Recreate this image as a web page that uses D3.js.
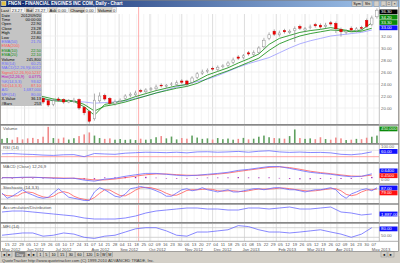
<!DOCTYPE html>
<html lang="en">
<head>
<meta charset="utf-8">
<title>FNGN - Daily - Chart</title>
<script src="https://cdn.jsdelivr.net/npm/d3@7"></script>
<style>
  body { margin: 0; background: #d4d0c8; }
  svg { display: block; font-family: "Liberation Sans", Arial, sans-serif; }
</style>
</head>
<body>
<script>
// ---- data ----
const candleDays = d3.timeDay.range(new Date(2012, 4, 10), new Date(2013, 4, 11), 5); // 74 bars
const lineDays = candleDays.filter((d, i) => i % 2 === 0); // 37 points

const open  = [22.4,22.8,23.3,23.1,22.9,22.3,22.1,21.9,21.6,21.2,20.6,21.5,21.4,21.0,21.1,21.4,20.1,19.4,18.2,21.2,
               22.1,21.6,20.7,21.1,21.6,22.1,22.2,22.9,22.7,23.1,23.2,23.8,23.6,23.9,23.9,24.5,24.5,24.3,25.1,25.8,
               26.1,26.6,26.4,26.9,27.1,27.6,28.5,28.4,29.2,28.9,29.3,30.2,31.6,32.8,32.2,32.9,32.6,32.9,33.6,33.0,
               33.4,33.9,33.8,33.6,34.2,34.1,33.1,32.6,33.3,32.9,33.4,34.6,33.9,35.2];
const high  = [23.0,23.4,23.6,23.4,23.1,22.7,22.4,22.2,21.9,21.5,21.6,21.8,21.6,21.5,21.7,21.6,20.4,19.6,22.4,22.6,
               22.4,21.8,21.4,21.6,22.3,22.6,22.9,23.2,23.3,23.5,23.9,24.1,24.0,24.3,24.6,24.8,24.7,25.3,26.0,26.4,
               26.6,26.9,27.1,27.3,27.8,28.4,28.8,29.0,29.5,29.6,30.3,31.7,32.6,33.1,32.9,33.2,33.1,33.6,33.9,33.5,
               33.9,34.2,34.1,34.2,34.5,34.4,33.4,33.1,33.6,33.5,33.7,34.9,35.4,36.6];
const low   = [22.1,22.5,22.9,22.5,22.2,21.9,21.5,21.2,20.7,20.2,20.3,21.0,20.7,20.8,20.8,19.7,18.8,17.4,17.9,20.9,
               21.2,20.5,20.4,20.8,21.3,21.8,21.9,22.5,22.4,22.8,22.9,23.4,23.3,23.6,23.6,24.0,23.5,24.0,24.8,25.5,
               25.8,26.2,26.1,26.6,26.8,27.3,28.0,28.1,28.7,28.6,29.0,29.9,31.3,32.0,31.9,32.4,32.3,31.0,33.0,32.7,
               33.1,33.4,33.2,33.3,33.7,32.5,31.9,32.3,32.7,32.6,33.0,33.3,33.6,34.9];
const close = [22.7,23.0,23.2,22.8,22.5,22.2,21.8,21.5,21.0,20.5,21.2,21.3,21.0,21.2,21.3,20.0,19.2,17.8,21.3,22.0,
               21.5,20.8,21.0,21.3,22.0,22.3,22.5,22.8,23.0,23.2,23.5,23.7,23.8,24.0,24.2,24.3,24.0,25.0,25.7,26.0,
               26.3,26.5,26.8,27.0,27.5,28.0,28.3,28.7,29.0,29.2,30.0,31.3,32.2,32.3,32.5,32.7,32.8,33.2,33.3,33.2,
               33.5,33.7,33.5,33.8,34.0,33.2,32.7,32.8,33.0,33.2,33.3,33.6,35.0,36.3];

const ema10 = [22.6,22.8,22.7,22.2,21.6,21.2,21.1,21.1,20.2,18.8,20.6,20.9,21.3,21.9,22.4,22.9,23.3,23.7,23.9,24.6,
               25.5,26.1,26.7,27.5,28.2,29.0,30.6,31.6,32.1,32.6,32.9,33.1,33.4,33.1,32.8,33.0,34.2];
const ema20 = [22.4,22.6,22.6,22.3,21.9,21.5,21.3,21.2,20.6,19.5,20.3,20.6,21.0,21.5,22.0,22.5,22.9,23.3,23.6,24.1,
               24.9,25.6,26.2,26.9,27.6,28.3,29.6,30.7,31.4,32.0,32.4,32.7,33.0,32.9,32.7,32.8,33.3];
const ema50 = [21.7,21.6,21.6,21.5,21.4,21.3,21.2,21.1,21.0,20.8,20.9,21.0,21.2,21.6,22.0,22.5,23.0,23.5,24.0,24.4,
               24.8,25.4,26.1,26.8,27.4,27.9,28.4,29.2,30.0,30.7,31.2,31.6,32.0,32.2,32.4,32.6,33.0];

const volume = [250,300,200,350,220,280,310,240,380,980,300,260,330,210,290,420,520,640,450,300,
                250,280,200,240,190,220,180,260,200,230,350,420,280,390,220,300,260,450,330,250,
                280,210,300,230,270,200,250,310,220,260,380,450,350,300,280,260,420,820,300,250,
                280,230,350,240,200,330,280,180,200,250,230,320,380,450]; // thousands

const rsi = [48,50,46,44,40,38,42,43,30,50,47,45,52,55,58,57,55,58,54,60,
             61,58,60,63,58,64,67,60,57,59,56,57,54,45,42,48,60];
const macd = [0.07,0.07,0.14,0.14,0.07,0.0,-0.05,0.0,-0.28,-0.43,-0.14,0.0,0.28,0.5,0.7,0.7,0.57,0.43,0.36,0.43,
              0.57,0.7,0.86,1.14,1.29,1.5,1.7,1.7,1.43,1.14,0.86,0.7,0.57,0.36,0.21,0.28,0.64];
const macdSignal = [0.1,0.08,0.1,0.12,0.1,0.06,0.02,0.0,-0.1,-0.25,-0.25,-0.12,0.08,0.3,0.5,0.62,0.62,0.52,0.44,0.42,
                    0.48,0.6,0.75,0.98,1.18,1.38,1.58,1.66,1.55,1.3,1.02,0.82,0.66,0.48,0.32,0.28,0.45];
const macdHist = [-0.03,-0.01,0.04,0.02,-0.03,-0.06,-0.07,0.0,-0.18,-0.18,0.11,0.12,0.2,0.2,0.2,0.08,-0.05,-0.09,-0.08,0.01,
                  0.09,0.1,0.11,0.16,0.11,0.12,0.12,0.04,-0.12,-0.16,-0.16,-0.12,-0.09,-0.12,-0.11,0.0,0.19];

const stochK = [56,25,37,56,75,56,44,31,25,31,56,81,56,31,25,19,12,12,62,87,
                75,56,37,31,50,81,87,94,87,81,69,56,37,37,56,75,81,69,75,87,
                75,69,62,69,75,62,62,69,75,81,81,75,81,87,87,81,75,75,69,62,
                69,75,75,81,87,75,44,25,50,62,75,81,69,87];
const stochD = [50,40,39,39,56,62,58,44,33,29,37,56,64,56,37,25,19,14,29,54,
                75,73,56,41,39,54,73,87,89,87,79,69,54,43,43,56,71,75,75,77,
                79,77,69,67,69,69,66,64,69,75,79,79,79,81,85,85,81,77,73,69,
                67,69,73,77,81,81,69,48,40,46,62,73,75,79];

const adLine = [2087,2187,2187,2087,1987,1887,1787,1687,1487,1387,1387,1387,1487,1687,1987,2187,2287,2387,2487,2487,
                2387,2387,2287,2287,2487,2487,2387,2487,2587,2387,2387,2487,2587,2087,1987,1787,1887]; // thousands
const mfi = [33,40,47,47,27,33,47,40,20,13,27,33,53,73,80,80,60,33,27,53,
             53,60,67,93,87,67,53,53,47,53,60,67,53,40,20,40,80];

const priceTicks = [20,22,24,26,28,30,32];
const cursorDay = new Date(2012, 8, 20);

const infoLabels = ["Date","Time","Open","Close","High","Low","EMA(50)","EMA(200)","EMA(10)","EMA(20)","Volume",
                    "RSI(14)","MACD(12,26,9)","Signal(12,26,9)","Hist(12,26,9)","%K(14,3,3)","%D(14,3,3)","A/D","MFI(14)","X-Value","#Bars"];
const infoValues = ["2012/09/20","00:00:00","22.90","23.28","23.40","22.80","21.70","","22.50","22.10","245,800",
                    "60.25","0.6012","0.5237","0.0775","93.62","87.10","1,687,000","80.00","36.13","253"];
const quoteItems = [["Last","23.27"],["Bid","23.27"],["Ask","0.00"],["Change","0.00"],["Volume","0"]];
const timeFrames = ["1","5","10","15","30","60","120","D","W","M"];

// ---- drawing ----
const W = 400, H = 263;
const BLUE = "#6a6aff", RED = "#ff5a5a", GREEN = "#0a8a0a";
const infoColor = ["#000","#000","#000","#000","#000","#000",BLUE,RED,GREEN,GREEN,"#000",
                   BLUE,BLUE,RED,"#c000c0",BLUE,RED,BLUE,BLUE,"#000","#000"];

const svg = d3.select("body").append("svg").attr("width", W).attr("height", H);
svg.append("rect").attr("width", W).attr("height", H).attr("fill", "#d4d0c8");
svg.append("rect").attr("x", 1).attr("y", 7).attr("width", 397).attr("height", 244).attr("fill", "#fff");

const x = d3.scaleTime().domain([new Date(2012, 4, 10), new Date(2013, 4, 12)]).range([2, 379]);

// vertical grid
const grid = svg.append("g");
const weeks = d3.timeTuesday.range(x.domain()[0], x.domain()[1]);
const months = d3.timeMonth.range(new Date(2012, 5, 1), x.domain()[1]);
grid.selectAll(".wk").data(weeks).enter().append("line")
  .attr("x1", d => x(d)).attr("x2", d => x(d)).attr("y1", 14).attr("y2", 241)
  .attr("stroke", "#f1f1f1").attr("stroke-width", 0.8);
grid.selectAll(".mo").data(months).enter().append("line")
  .attr("x1", d => x(d)).attr("x2", d => x(d)).attr("y1", 14).attr("y2", 241)
  .attr("stroke", "#d6d6d6").attr("stroke-width", 0.8);

// price panel
const yP = d3.scaleLinear().domain([20, 34]).range([108, 24]);
grid.selectAll(".pg").data(priceTicks).enter().append("line")
  .attr("x1", 1).attr("x2", 379).attr("y1", d => yP(d)).attr("y2", d => yP(d))
  .attr("stroke", "#eeeeee").attr("stroke-width", 0.8);

svg.append("line").attr("x1", x(cursorDay)).attr("x2", x(cursorDay)).attr("y1", 7).attr("y2", 241)
  .attr("stroke", "#ff9a9a").attr("stroke-width", 0.8);

const bars = candleDays.map((d, i) => ({ date: d, o: open[i], h: high[i], l: low[i], c: close[i], v: volume[i], k: stochK[i], dd: stochD[i] }));
const pts = lineDays.map((d, i) => ({ date: d, e10: ema10[i], e20: ema20[i], e50: ema50[i], rsi: rsi[i], m: macd[i], s: macdSignal[i], hst: macdHist[i], ad: adLine[i], mfi: mfi[i] }));

function drawLine(key, y, color, width) {
  svg.append("path").datum(pts)
    .attr("d", d3.line().x(d => x(d.date)).y(d => y(d[key])))
    .attr("fill", "none").attr("stroke", color).attr("stroke-width", width || 0.8);
}
function drawBarLine(key, y, color) {
  svg.append("path").datum(bars)
    .attr("d", d3.line().x(d => x(d.date)).y(d => y(d[key])))
    .attr("fill", "none").attr("stroke", color).attr("stroke-width", 0.8);
}

drawLine("e50", yP, "#9a9aff");
drawLine("e20", yP, GREEN);
drawLine("e10", yP, GREEN);

const candles = svg.selectAll(".candle").data(bars).enter().append("g");
candles.append("line")
  .attr("x1", d => x(d.date)).attr("x2", d => x(d.date))
  .attr("y1", d => yP(d.h)).attr("y2", d => yP(d.l))
  .attr("stroke", "#8c8c8c").attr("stroke-width", 0.7);
candles.append("rect")
  .attr("x", d => x(d.date) - 1.2).attr("width", 2.4)
  .attr("y", d => yP(Math.max(d.o, d.c)))
  .attr("height", d => Math.max(0.7, Math.abs(yP(d.o) - yP(d.c))))
  .attr("fill", d => d.c < d.o ? "#f00000" : "#fff")
  .attr("stroke", d => d.c < d.o ? "#d00000" : "#8c8c8c").attr("stroke-width", 0.5);

// volume
const yV = d3.scaleLinear().domain([0, 1000]).range([143, 126.5]);
svg.selectAll(".vol").data(bars).enter().append("rect")
  .attr("x", d => x(d.date) - 0.8).attr("width", 1.6)
  .attr("y", d => yV(d.v)).attr("height", d => yV(0) - yV(d.v))
  .attr("fill", d => d.c < d.o ? "#f08a8a" : "#5fa05f");

// RSI
const yR = d3.scaleLinear().domain([0, 100]).range([161.5, 145.5]);
svg.append("line").attr("x1", 1).attr("x2", 379).attr("y1", yR(70)).attr("y2", yR(70)).attr("stroke", "#dcdcdc").attr("stroke-width", 0.8);
svg.append("line").attr("x1", 1).attr("x2", 379).attr("y1", yR(30)).attr("y2", yR(30)).attr("stroke", "#ff9a9a").attr("stroke-width", 0.9);
drawLine("rsi", yR, BLUE);

// MACD
const yM = d3.scaleLinear().domain([-0.7, 2.0]).range([183, 164.5]);
svg.selectAll(".hist").data(pts).enter().append("rect")
  .attr("x", d => x(d.date) - 0.7).attr("width", 1.4)
  .attr("y", d => Math.min(yM(0), yM(d.hst))).attr("height", d => Math.max(0.5, Math.abs(yM(d.hst) - yM(0))))
  .attr("fill", "#a020b0");
drawLine("s", yM, RED);
drawLine("m", yM, BLUE);

// Stochastic
const yS = d3.scaleLinear().domain([0, 100]).range([202.5, 185.5]);
[20, 80].forEach(v => svg.append("line").attr("x1", 1).attr("x2", 379).attr("y1", yS(v)).attr("y2", yS(v)).attr("stroke", "#c8c8c8").attr("stroke-width", 0.8));
drawBarLine("dd", yS, RED);
drawBarLine("k", yS, BLUE);

// A/D
const yA = d3.scaleLinear().domain([1087, 2787]).range([222, 205]);
drawLine("ad", yA, BLUE);

// MFI
const yF = d3.scaleLinear().domain([0, 100]).range([240.5, 224.5]);
[20, 80].forEach(v => svg.append("line").attr("x1", 1).attr("x2", 379).attr("y1", yF(v)).attr("y2", yF(v)).attr("stroke", "#c8c8c8").attr("stroke-width", 0.8));
drawLine("mfi", yF, BLUE);

// panel separators
[124, 143, 162, 183, 203, 222].forEach(y => {
  svg.append("rect").attr("x", 0).attr("y", y).attr("width", 399).attr("height", 2).attr("fill", "#a8a8a8");
  svg.append("line").attr("x1", 0).attr("x2", 399).attr("y1", y + 0.5).attr("y2", y + 0.5).attr("stroke", "#707070").attr("stroke-width", 0.6);
});

// panel titles
const titles = [["Volume", 129.5], ["RSI (14)", 148.5], ["MACD (Close) 12,26,9", 167.5], ["Stochastic (14,3,3)", 188.5], ["Accumulation/Distribution", 208.5], ["MFI (14)", 227.5]];
titles.forEach(t => svg.append("text").attr("x", 3).attr("y", t[1]).attr("font-size", 4.3).attr("fill", "#555").text(t[0]));

// right axis column
svg.append("rect").attr("x", 379).attr("y", 7).attr("width", 19).attr("height", 234).attr("fill", "#fff");
svg.append("line").attr("x1", 379.3).attr("x2", 379.3).attr("y1", 7).attr("y2", 241).attr("stroke", "#9a9a9a").attr("stroke-width", 0.6);
[124, 143, 162, 183, 203, 222].forEach(y => svg.append("rect").attr("x", 379).attr("y", y).attr("width", 20).attr("height", 2).attr("fill", "#a8a8a8"));

const axisText = (y, t) => svg.append("text").attr("x", 381).attr("y", y + 1.5).attr("font-size", 4.3).attr("fill", "#666").text(t);
priceTicks.forEach(v => axisText(yP(v), d3.format(".2f")(v)));
axisText(yR(100) + 1, "100.00");
axisText(yM(0) + 1.5, "0.00");
axisText(yF(50) + 2.5, "50.00");

function valueBox(y, fill, t) {
  svg.append("rect").attr("x", 379.5).attr("y", y).attr("width", 18).attr("height", 4.8).attr("fill", fill);
  svg.append("text").attr("x", 381).attr("y", y + 3.9).attr("font-size", 4.3).attr("fill", "#fff").text(t);
}
const f2 = d3.format(".2f"), f4 = d3.format(".4f"), fk = v => d3.format(",")(v * 1000);
const lastB = bars[bars.length - 1], lastP = pts[pts.length - 1];
valueBox(9.5, "#000", f2(lastB.c));
valueBox(14.8, "#0a8a0a", f2(lastP.e10));
valueBox(20.1, "#0a8a0a", f2(lastP.e20));
valueBox(25.4, "#1010ff", f2(lastP.e50));
valueBox(126.5, "#0a8a0a", fk(lastB.v));
valueBox(149, "#1010ff", f2(lastP.rsi));
valueBox(168.5, "#1010ff", f4(lastP.m));
valueBox(173.3, "#ff1010", f4(lastP.s));
valueBox(185.6, "#1010ff", f2(lastB.k));
valueBox(190.5, "#ff1010", f2(lastB.dd));
valueBox(yA(lastP.ad) - 2.4, "#1010ff", fk(lastP.ad));
valueBox(226.5, "#1010ff", f2(lastP.mfi));

// x axis
svg.append("line").attr("x1", 1).attr("x2", 398).attr("y1", 241.3).attr("y2", 241.3).attr("stroke", "#777").attr("stroke-width", 0.6);
svg.selectAll(".dayl").data(weeks.filter(d => x(d) < 378)).enter().append("text")
  .attr("x", d => x(d)).attr("y", 246.3).attr("text-anchor", "middle")
  .attr("font-size", 4.2).attr("fill", "#555").text(d3.timeFormat("%d"));
const monthTicks = [x.domain()[0]].concat(months.map(m => d3.timeTuesday.ceil(m)));
svg.selectAll(".mol").data(monthTicks).enter().append("text")
  .attr("x", (d, i) => i === 0 ? 2 : x(d) - 2).attr("y", 250.6)
  .attr("font-size", 4.2).attr("fill", "#555").text(d3.timeFormat("%b %Y"));

// title bar
const grad = svg.append("defs").append("linearGradient").attr("id", "tb");
grad.append("stop").attr("offset", "0%").attr("stop-color", "#0a246a");
grad.append("stop").attr("offset", "100%").attr("stop-color", "#a6caf0");
svg.append("rect").attr("x", 0).attr("y", 0).attr("width", W).attr("height", 7).attr("fill", "url(#tb)");
svg.append("rect").attr("x", 1.5).attr("y", 1.2).attr("width", 4.5).attr("height", 4.5).attr("fill", "#e0c040").attr("stroke", "#fff").attr("stroke-width", 0.4);
svg.append("text").attr("x", 8).attr("y", 5.2).attr("font-size", 4.6).attr("font-weight", "bold").attr("fill", "#fff")
  .text("FNGN - FINANCIAL ENGINES INC COM, Daily - Chart");

function button(bx, by, bw, bh, t, dark) {
  svg.append("rect").attr("x", bx).attr("y", by).attr("width", bw).attr("height", bh)
    .attr("fill", dark ? "#808080" : "#d4d0c8").attr("stroke", "#808080").attr("stroke-width", 0.4);
  if (t) svg.append("text").attr("x", bx + bw / 2).attr("y", by + bh - 1.3).attr("text-anchor", "middle")
    .attr("font-size", 3.8).attr("fill", dark ? "#fff" : "#000").text(t);
}
button(352, 1, 10, 5.5, "Sym");
button(363, 1, 9, 5.5, "Sht");
button(374, 1, 5, 5.5, "");
button(381, 1, 5, 5.5, "_");
button(386.5, 1, 5, 5.5, "□");
button(392, 1, 5, 5.5, "×");

// quote row
let qx = 0;
quoteItems.forEach(q => {
  const lw = q[0].length * 2.2 + 2, vw = q[1].length * 2.2 + 2.5;
  svg.append("rect").attr("x", qx).attr("y", 7).attr("width", lw).attr("height", 6).attr("fill", "#d4d0c8");
  svg.append("text").attr("x", qx + 1).attr("y", 11.8).attr("font-size", 4.2).attr("fill", "#000").text(q[0]);
  svg.append("rect").attr("x", qx + lw).attr("y", 7.4).attr("width", vw).attr("height", 5.2).attr("fill", "#f4f4f4").attr("stroke", "#a0a0a0").attr("stroke-width", 0.4);
  svg.append("text").attr("x", qx + lw + 1).attr("y", 11.8).attr("font-size", 4.2).attr("fill", "#333").text(q[1]);
  qx += lw + vw + 1;
});

// info box
svg.append("rect").attr("x", 0).attr("y", 13).attr("width", 42).attr("height", 93).attr("fill", "#c4c4c4");
infoLabels.forEach((t, i) => {
  const yy = 16.6 + i * 4.4;
  svg.append("text").attr("x", 1.5).attr("y", yy).attr("font-size", 4).attr("fill", infoColor[i]).text(t);
  svg.append("text").attr("x", 41).attr("y", yy).attr("text-anchor", "end").attr("font-size", 4).attr("fill", infoColor[i]).text(infoValues[i]);
});

// bottom controls
svg.append("rect").attr("x", 0).attr("y", 251).attr("width", W).attr("height", 12).attr("fill", "#d4d0c8");
button(1.5, 251.8, 5, 5.2, "◄");
button(7, 251.8, 5, 5.2, "►");
button(15, 251.8, 10, 5.2, "Day", true);
button(26, 251.8, 5, 5.2, "◄");
button(31.5, 251.8, 5, 5.2, "►");
let tx = 37.5;
timeFrames.forEach(t => { const w = t.length * 2.6 + 3; button(tx, 251.8, w, 5.2, t); tx += w + 0.4; });
button(381, 251.8, 6, 5.2, "◄");
button(388, 251.8, 6, 5.2, "►");
svg.append("text").attr("x", 2).attr("y", 261.8).attr("font-size", 4.1).attr("fill", "#333")
  .text("QuoteTracker http://www.quotetracker.com (C) 1999-2010 ADVANCED TRADE, Inc.");

// window frame
svg.append("rect").attr("x", 0.3).attr("y", 0.3).attr("width", 398.4).attr("height", 251).attr("fill", "none").attr("stroke", "#808080").attr("stroke-width", 0.6);
</script>
</body>
</html>
